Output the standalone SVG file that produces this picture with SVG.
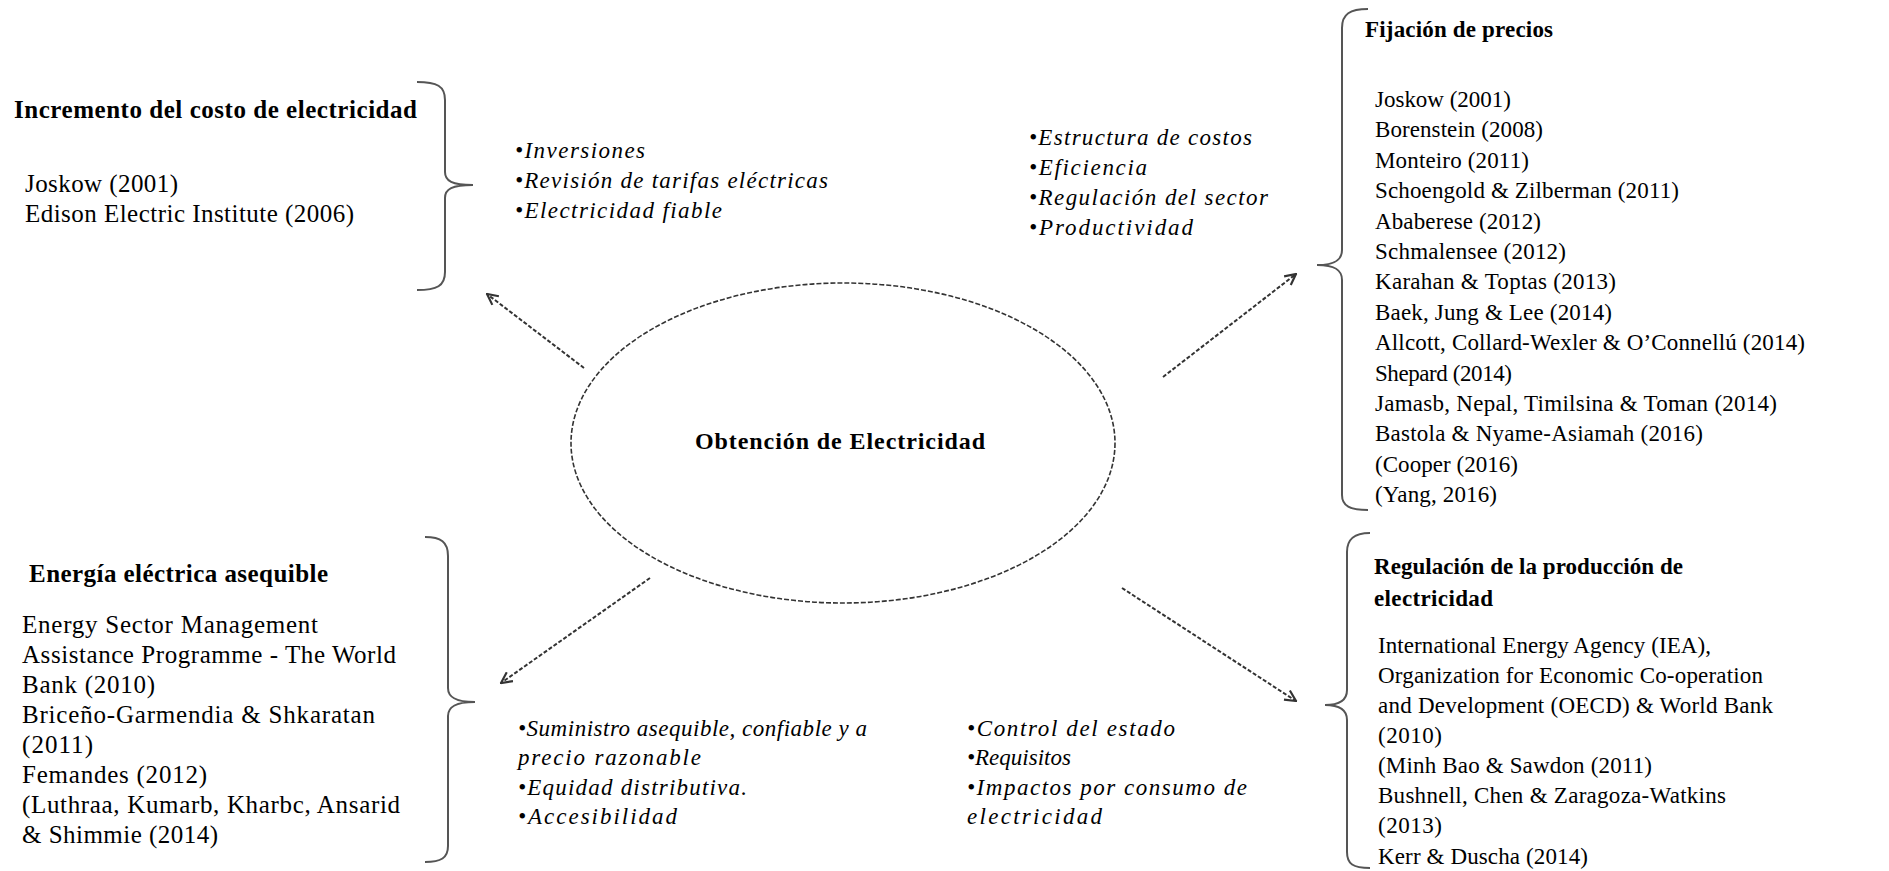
<svg xmlns="http://www.w3.org/2000/svg" width="1889" height="871" viewBox="0 0 1889 871">
<style>
.t{font-family:"Liberation Serif","Times New Roman",serif;fill:#000}
.s23{font-size:23px}
.s25{font-size:25px}
.b{font-weight:bold}
.it{font-family:"Liberation Serif","Times New Roman",serif;font-style:italic;font-size:23px;fill:#000}
.brace{fill:none;stroke:#555;stroke-width:2}
.arr{fill:none;stroke:#333;stroke-width:2;stroke-dasharray:4 2}
.ell{fill:none;stroke:#333;stroke-width:1.6;stroke-dasharray:5 2}
</style>
<defs>
<marker id="ah" viewBox="0 0 12 12" refX="11" refY="6" markerWidth="13" markerHeight="13" markerUnits="userSpaceOnUse" orient="auto">
<path d="M1,1 L11,6 L1,11" fill="none" stroke="#333" stroke-width="2" stroke-dasharray="none"/>
</marker>
</defs>
<rect width="1889" height="871" fill="#fff"/>

<g id="center">
<ellipse class="ell" cx="843" cy="443" rx="272" ry="160"/>
<text class="t b" x="840" y="449" font-size="24" text-anchor="middle" textLength="290">Obtención de Electricidad</text>
</g>

<g id="connectors">
<line class="arr" x1="584" y1="368" x2="487" y2="294" marker-end="url(#ah)"/>
<line class="arr" x1="1163" y1="377" x2="1296" y2="274" marker-end="url(#ah)"/>
<line class="arr" x1="650" y1="578" x2="501" y2="683" marker-end="url(#ah)"/>
<line class="arr" x1="1122" y1="588" x2="1296" y2="701" marker-end="url(#ah)"/>
</g>

<g id="incremento">
<path class="brace" d="M417,82 C437,82 445,86 445,100 L445,172 C445,181 452,185 473,185 C452,185 445,189 445,198 L445,272 C445,286 437,290 417,290"/>
<text class="t s25 b" x="14" y="118" textLength="403">Incremento del costo de electricidad</text>
<text class="t s25" x="25" y="192" textLength="153">Joskow (2001)</text>
<text class="t s25" x="25" y="222" textLength="329">Edison Electric Institute (2006)</text>
</g>

<g id="bullets-incremento">
<text class="it" x="515" y="158" textLength="130">•Inversiones</text>
<text class="it" x="515" y="188" textLength="313">•Revisión de tarifas eléctricas</text>
<text class="it" x="515" y="218" textLength="207">•Electricidad fiable</text>
</g>

<g id="bullets-fijacion">
<text class="it" x="1029" y="145" textLength="223">•Estructura de costos</text>
<text class="it" x="1029" y="175" textLength="118">•Eficiencia</text>
<text class="it" x="1029" y="205" textLength="239">•Regulación del sector</text>
<text class="it" x="1029" y="235" textLength="164">•Productividad</text>
</g>

<g id="fijacion">
<path class="brace" d="M1368,9 C1350,9 1342,14 1342,28 L1342,250 C1342,260 1335,265 1317,265 C1335,265 1342,270 1342,280 L1342,495 C1342,506 1350,510 1368,510"/>
<text class="t s23 b" x="1365" y="37" textLength="188">Fijación de precios</text>
<text class="t s23" x="1375" y="107" textLength="136">Joskow (2001)</text>
<text class="t s23" x="1375" y="137.4" textLength="168">Borenstein (2008)</text>
<text class="t s23" x="1375" y="167.8" textLength="154">Monteiro (2011)</text>
<text class="t s23" x="1375" y="198.2" textLength="304">Schoengold &amp; Zilberman (2011)</text>
<text class="t s23" x="1375" y="228.6" textLength="166">Ababerese (2012)</text>
<text class="t s23" x="1375" y="259" textLength="191">Schmalensee (2012)</text>
<text class="t s23" x="1375" y="289.4" textLength="241">Karahan &amp; Toptas (2013)</text>
<text class="t s23" x="1375" y="319.8" textLength="237">Baek, Jung &amp; Lee (2014)</text>
<text class="t s23" x="1375" y="350.2" textLength="430">Allcott, Collard-Wexler &amp; O’Connellú (2014)</text>
<text class="t s23" x="1375" y="380.6" textLength="137">Shepard (2014)</text>
<text class="t s23" x="1375" y="411" textLength="402">Jamasb, Nepal, Timilsina &amp; Toman (2014)</text>
<text class="t s23" x="1375" y="441.4" textLength="328">Bastola &amp; Nyame-Asiamah (2016)</text>
<text class="t s23" x="1375" y="471.8" textLength="143">(Cooper (2016)</text>
<text class="t s23" x="1375" y="502.2" textLength="122">(Yang, 2016)</text>
</g>

<g id="asequible">
<path class="brace" d="M425,537 C441,537 448,542 448,556 L448,688 C448,697 455,702 475,702 C455,702 448,707 448,716 L448,846 C448,858 441,862 425,862"/>
<text class="t s25 b" x="29" y="582" textLength="299">Energía eléctrica asequible</text>
<text class="t s25" x="22" y="633" textLength="296">Energy Sector Management</text>
<text class="t s25" x="22" y="663" textLength="374">Assistance Programme - The World</text>
<text class="t s25" x="22" y="693" textLength="133">Bank (2010)</text>
<text class="t s25" x="22" y="723" textLength="353">Briceño-Garmendia &amp; Shkaratan</text>
<text class="t s25" x="22" y="753" textLength="71">(2011)</text>
<text class="t s25" x="22" y="783" textLength="185">Femandes (2012)</text>
<text class="t s25" x="22" y="813" textLength="378">(Luthraa, Kumarb, Kharbc, Ansarid</text>
<text class="t s25" x="22" y="843" textLength="196">&amp; Shimmie (2014)</text>
</g>

<g id="bullets-asequible">
<text class="it" x="518" y="736" textLength="349">•Suministro asequible, confiable y a</text>
<text class="it" x="518" y="765" textLength="183">precio razonable</text>
<text class="it" x="518" y="795" textLength="229">•Equidad distributiva.</text>
<text class="it" x="518" y="824" textLength="159">•Accesibilidad</text>
</g>

<g id="bullets-regulacion">
<text class="it" x="967" y="736" textLength="208">•Control del estado</text>
<text class="it" x="967" y="765">•Requisitos</text>
<text class="it" x="967" y="795" textLength="280">•Impactos por consumo de</text>
<text class="it" x="967" y="824" textLength="135">electricidad</text>
</g>

<g id="regulacion">
<path class="brace" d="M1370,533 C1353,533 1347,540 1347,552 L1347,690 C1347,700 1340,705 1325,705 C1340,705 1347,710 1347,720 L1347,852 C1347,864 1353,868 1370,868"/>
<text class="t s23 b" x="1374" y="574" textLength="309">Regulación de la producción de</text>
<text class="t s23 b" x="1374" y="606" textLength="119">electricidad</text>
<text class="t s23" x="1378" y="653" textLength="333">International Energy Agency (IEA),</text>
<text class="t s23" x="1378" y="683" textLength="385">Organization for Economic Co-operation</text>
<text class="t s23" x="1378" y="713" textLength="395">and Development (OECD) &amp; World Bank</text>
<text class="t s23" x="1378" y="743" textLength="64">(2010)</text>
<text class="t s23" x="1378" y="773" textLength="274">(Minh Bao &amp; Sawdon (2011)</text>
<text class="t s23" x="1378" y="803" textLength="348">Bushnell, Chen &amp; Zaragoza-Watkins</text>
<text class="t s23" x="1378" y="833" textLength="64">(2013)</text>
<text class="t s23" x="1378" y="864" textLength="210">Kerr &amp; Duscha (2014)</text>
</g>
</svg>
